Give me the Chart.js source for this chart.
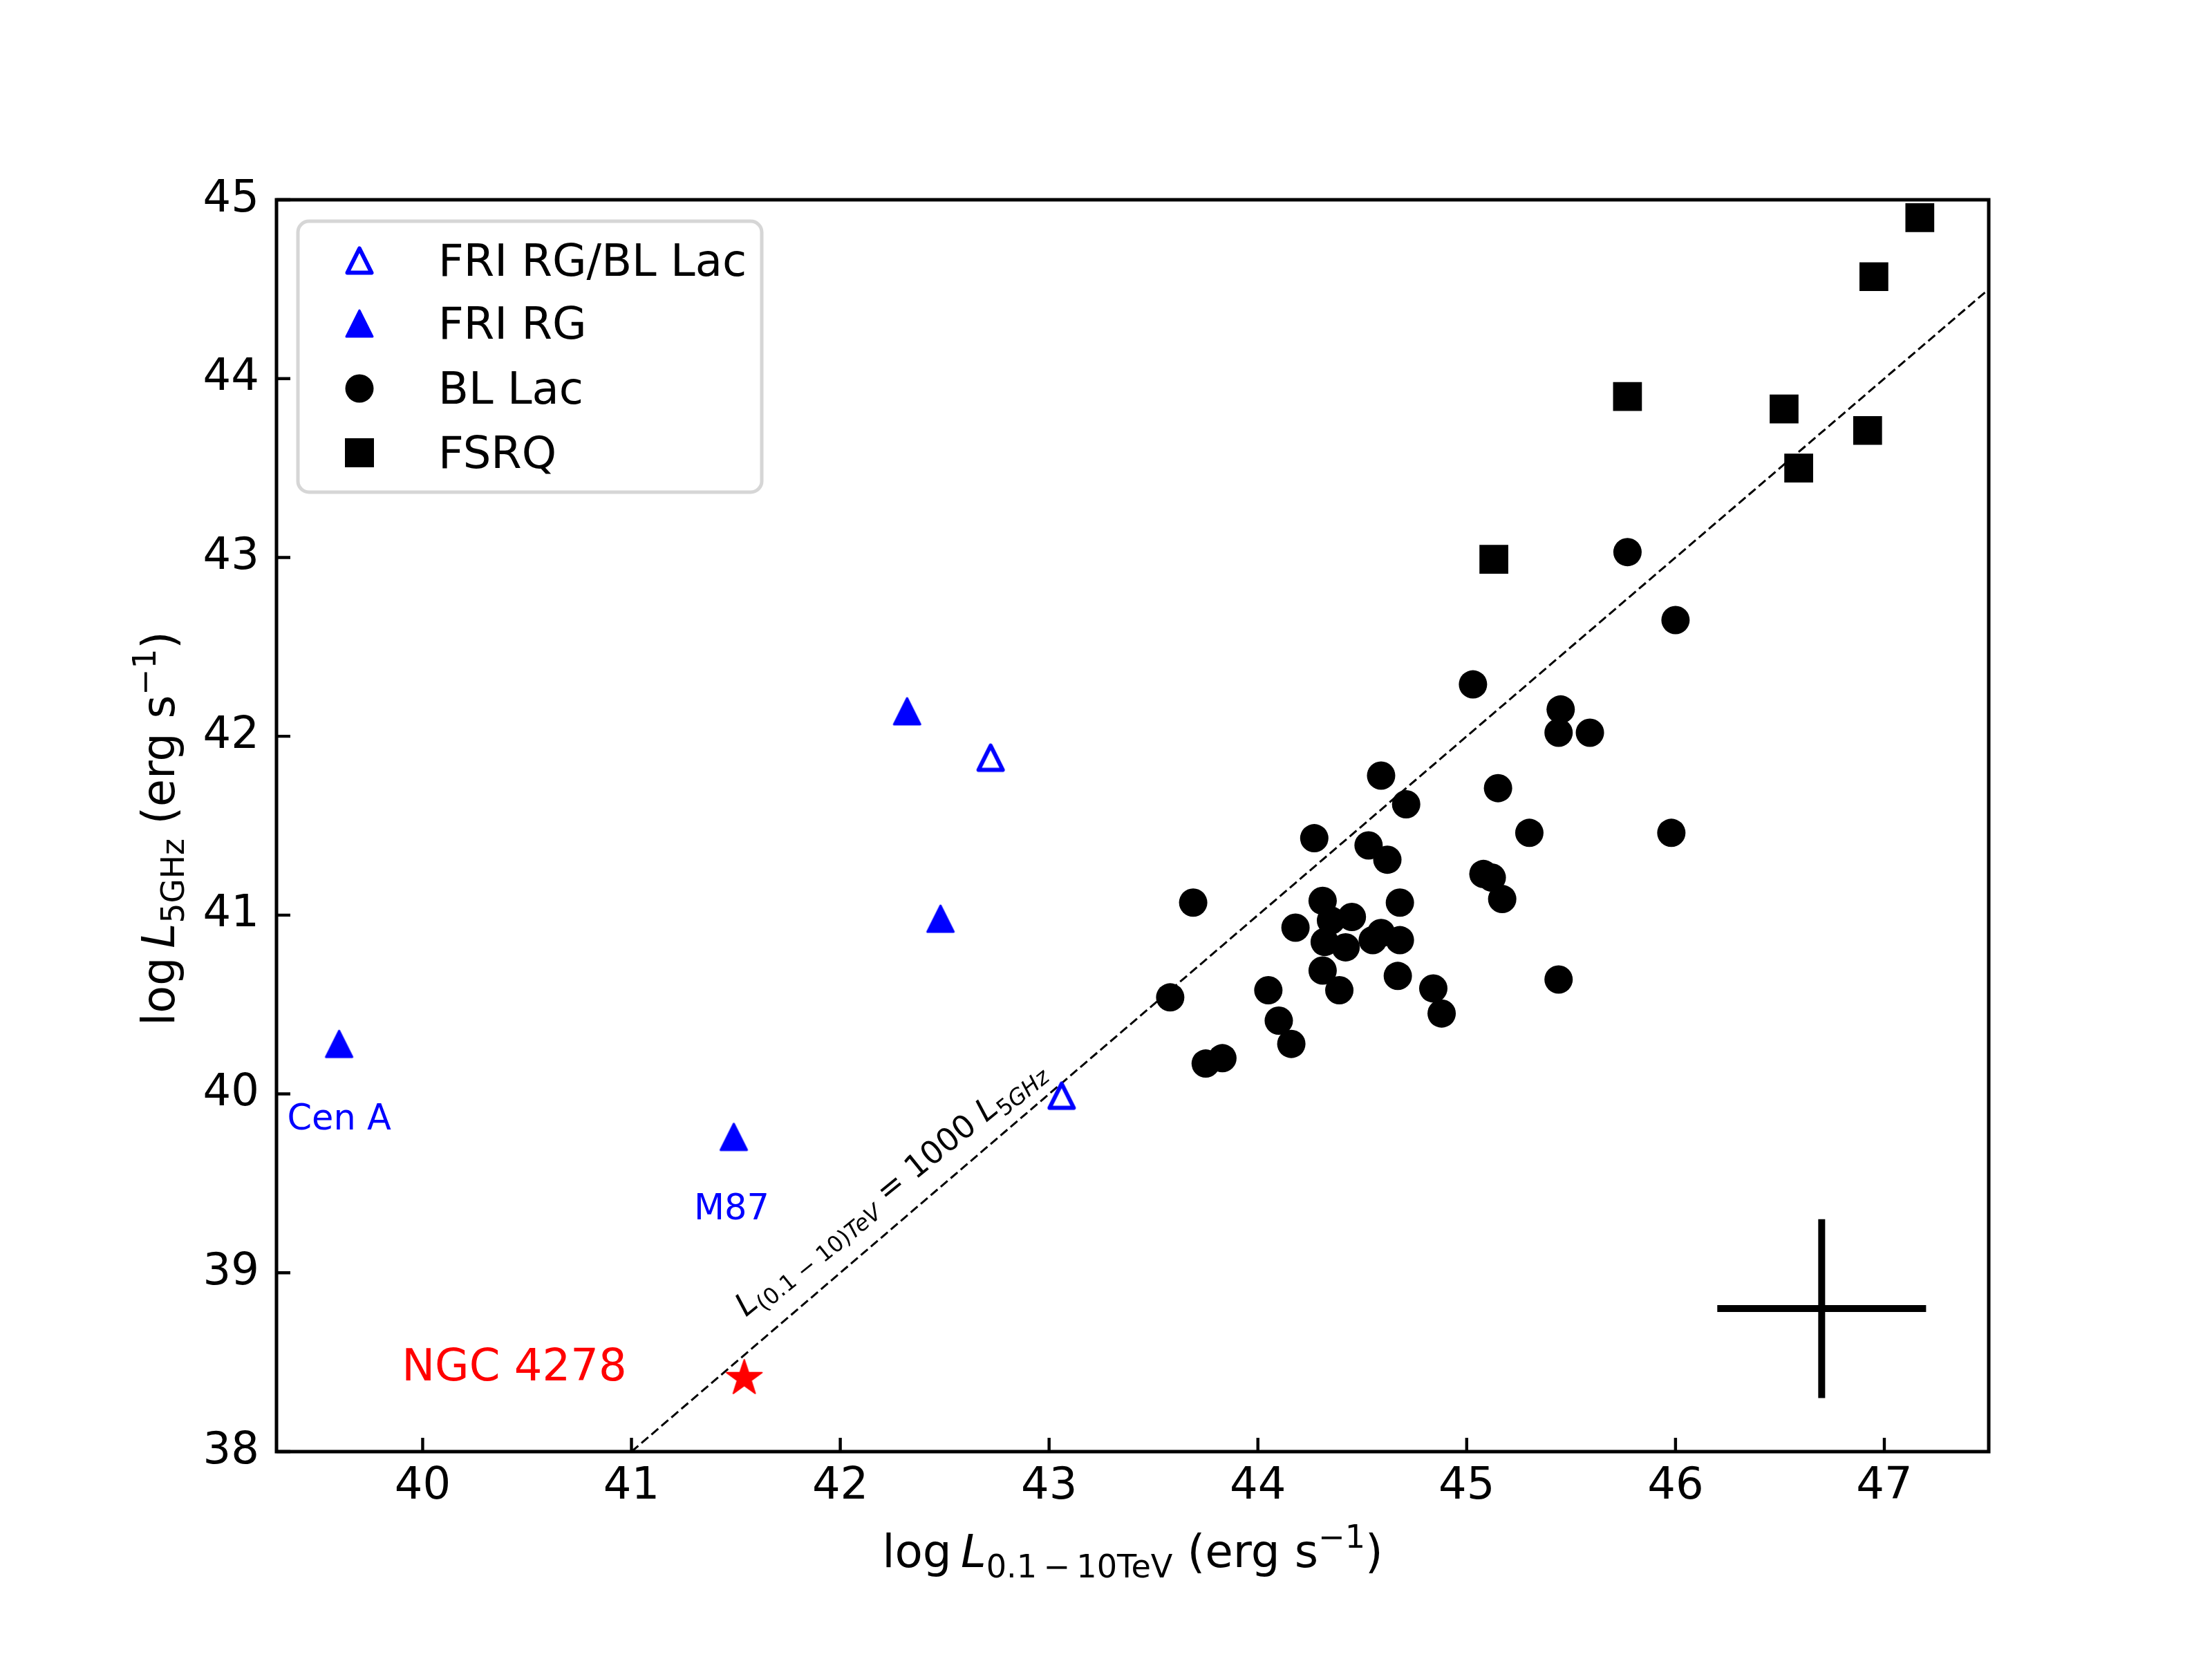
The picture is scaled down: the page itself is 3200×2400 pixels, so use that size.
<!DOCTYPE html>
<html>
<head>
<meta charset="utf-8">
<script src="https://cdn.jsdelivr.net/npm/chart.js@4"></script>
<style>html,body{margin:0;background:#fff}canvas{display:block}</style>
</head>
<body>
<canvas id="c" width="3200" height="2400" style="width:3200px;height:2400px"></canvas>
<script>
// ── data ────────────────────────────────────────────────────────────────────
const X_TICKS = [40, 41, 42, 43, 44, 45, 46, 47];
const Y_TICKS = [38, 39, 40, 41, 42, 43, 44, 45];

const RGBL_X  = [42.72, 43.06];                       // FRI RG/BL Lac (open)
const RGBL_Y  = [41.88, 39.99];
const FRIRG_X = [42.32, 42.48, 39.60, 41.49];         // FRI RG (filled)
const FRIRG_Y = [42.14, 40.98, 40.28, 39.76];
const BLLAC_X = [45.77, 46.00, 45.03, 45.45, 45.44, 45.59, 44.59, 45.15, 44.71, 45.30,
                 45.98, 44.27, 44.53, 44.62, 45.08, 45.12, 45.17, 43.69, 44.31, 44.68,
                 44.45, 44.35, 44.18, 44.59, 44.55, 44.68, 44.32, 44.42, 44.31, 44.67,
                 45.44, 44.39, 44.05, 44.84, 44.88, 43.58, 44.10, 44.16, 43.75, 43.83];
const BLLAC_Y = [43.03, 42.65, 42.29, 42.15, 42.02, 42.02, 41.78, 41.71, 41.62, 41.46,
                 41.46, 41.43, 41.39, 41.31, 41.23, 41.21, 41.09, 41.07, 41.08, 41.07,
                 40.99, 40.97, 40.93, 40.90, 40.86, 40.86, 40.85, 40.82, 40.69, 40.66,
                 40.64, 40.58, 40.58, 40.59, 40.45, 40.54, 40.41, 40.28, 40.17, 40.20];
const FSRQ_X  = [47.17, 46.95, 45.77, 46.52, 46.92, 46.59, 45.13];
const FSRQ_Y  = [44.90, 44.57, 43.90, 43.83, 43.71, 43.50, 42.99];
const NGC_X   = [41.54];
const NGC_Y   = [38.41];

const LINE_X  = [41, 47.5];                           // L_TeV = 1000 L_5GHz
const LINE_Y  = [38, 44.5];

const ERR_X = 46.7, ERR_Y = 38.8, ERR_DX = 0.5, ERR_DY = 0.5;   // typical error bar

const pts = (xs, ys) => xs.map((x, i) => ({ x, y: ys[i] }));

// ── marker images (matplotlib-like shapes) ──────────────────────────────────
function markerCanvas(size, draw){
  const c = document.createElement("canvas");
  c.width = c.height = size;
  draw(c.getContext("2d"), size / 2);
  return c;
}
function triPath(g, c, h){
  g.beginPath(); g.moveTo(c, c - h); g.lineTo(c + h, c + h); g.lineTo(c - h, c + h); g.closePath();
}
const TRI_FILLED = markerCanvas(50, (g, c) => {
  triPath(g, c, 19); g.fillStyle = "#0000ff"; g.fill();
  g.lineJoin = "round"; g.lineWidth = 3; g.strokeStyle = "#0000ff"; g.stroke();
});
const TRI_OPEN = markerCanvas(50, (g, c) => {
  triPath(g, c, 17.5); g.lineJoin = "round"; g.lineWidth = 6; g.strokeStyle = "#0000ff"; g.stroke();
});
const STAR = markerCanvas(62, (g, c) => {
  g.beginPath();
  for (let i = 0; i < 10; i++){
    const r = i % 2 ? 10.5 : 27, a = -Math.PI / 2 + i * Math.PI / 5;
    g.lineTo(c + r * Math.cos(a), c + r * Math.sin(a));
  }
  g.closePath(); g.fillStyle = "#ff0000"; g.fill();
  g.lineJoin = "round"; g.lineWidth = 2; g.strokeStyle = "#ff0000"; g.stroke();
});

// ── text with sub/superscripts ──────────────────────────────────────────────
function drawRuns(ctx, runs, x, y, size, align){
  const fontOf = r => `${r.it ? "italic " : ""}${(r.sub || r.sup) ? size * 0.7 : size}px "DejaVu Sans"`;
  let w = 0;
  const ws = runs.map(r => { ctx.font = fontOf(r); const m = ctx.measureText(r.t).width; w += m; return m; });
  let cx = align === "center" ? x - w / 2 : x;
  ctx.textAlign = "left"; ctx.textBaseline = "alphabetic";
  runs.forEach((r, i) => {
    ctx.font = fontOf(r);
    const dy = r.sub ? size * 0.22 : r.sup ? -size * 0.42 : 0;
    ctx.fillText(r.t, cx, y + dy);
    cx += ws[i];
  });
}

const LABELS = [
  { text: "Cen A",    x: 39.60, y: 39.80, color: "#0000ff", size: 51, align: "center" },
  { text: "M87",      x: 41.48, y: 39.30, color: "#0000ff", size: 51, align: "center" },
  { text: "NGC 4278", x: 39.90, y: 38.40, color: "#ff0000", size: 64, align: "left" },
];

const decor = {
  id: "decor",
  afterDatasetsDraw(chart){
    const { ctx, chartArea: a, scales: { x, y } } = chart;
    ctx.save();

    // inward ticks, bottom and left
    ctx.strokeStyle = "#000"; ctx.lineWidth = 4.4;
    ctx.beginPath();
    X_TICKS.forEach(v => { const p = x.getPixelForValue(v); ctx.moveTo(p, a.bottom); ctx.lineTo(p, a.bottom - 20); });
    Y_TICKS.forEach(v => { const p = y.getPixelForValue(v); ctx.moveTo(a.left, p); ctx.lineTo(a.left + 20, p); });
    ctx.stroke();

    // frame
    ctx.lineWidth = 5;
    ctx.strokeRect(a.left, a.top, a.right - a.left, a.bottom - a.top);

    // point labels
    LABELS.forEach(l => {
      ctx.fillStyle = l.color; ctx.font = `${l.size}px "DejaVu Sans"`;
      ctx.textAlign = l.align; ctx.textBaseline = "alphabetic";
      ctx.fillText(l.text, x.getPixelForValue(l.x), y.getPixelForValue(l.y));
    });

    // relation label along the dashed line
    ctx.fillStyle = "#000";
    ctx.save();
    ctx.translate(x.getPixelForValue(42.24), y.getPixelForValue(39.47));
    ctx.rotate(-39 * Math.PI / 180);
    drawRuns(ctx, [
      { t: "L", it: 1 }, { t: "(0.1 \u2212 10)", sub: 1 }, { t: "TeV", sub: 1, it: 1 },
      { t: " = 1000 " }, { t: "L", it: 1 }, { t: "5", sub: 1 }, { t: "GHz", sub: 1, it: 1 },
    ], 0, 13, 46, "center");
    ctx.restore();

    // axis titles
    drawRuns(ctx, [
      { t: "log" }, { t: "\u2009" }, { t: "L", it: 1 }, { t: "0.1\u2009\u2212\u200910TeV", sub: 1 },
      { t: " (erg s" }, { t: "\u22121", sup: 1 }, { t: ")" },
    ], (a.left + a.right) / 2, 2267, 66, "center");
    ctx.save();
    ctx.translate(252, (a.top + a.bottom) / 2 + 4);
    ctx.rotate(-Math.PI / 2);
    drawRuns(ctx, [
      { t: "log" }, { t: "\u2009" }, { t: "L", it: 1 }, { t: "5GHz", sub: 1 },
      { t: " (erg s" }, { t: "\u22121", sup: 1 }, { t: ")" },
    ], 0, 0, 65, "center");
    ctx.restore();

    // legend
    const L = 431, T = 320, W = 671, H = 392, R = 16;
    ctx.beginPath();
    ctx.roundRect(L, T, W, H, R);
    ctx.fillStyle = "rgba(255,255,255,0.8)"; ctx.fill();
    ctx.lineWidth = 5; ctx.strokeStyle = "#d6d6d6"; ctx.stroke();
    const rows = [
      ["FRI RG/BL Lac", g => ctx.drawImage(TRI_OPEN, 520 - 25, g - 25)],
      ["FRI RG",        g => ctx.drawImage(TRI_FILLED, 520 - 25, g - 25)],
      ["BL Lac",        g => { ctx.fillStyle = "#000"; ctx.beginPath(); ctx.arc(520, g, 20.5, 0, 2 * Math.PI); ctx.fill(); }],
      ["FSRQ",          g => { ctx.fillStyle = "#000"; ctx.fillRect(520 - 21, g - 21, 42, 42); }],
    ];
    [377, 468, 562, 655].forEach((g, i) => {
      rows[i][1](g);
      ctx.fillStyle = "#000"; ctx.font = '64px "DejaVu Sans"';
      ctx.textAlign = "left"; ctx.textBaseline = "alphabetic";
      ctx.fillText(rows[i][0], 634, g + 22);
    });

    ctx.restore();
  }
};

const tickFont = { family: "DejaVu Sans", size: 64 };

new Chart(document.getElementById("c"), {
  type: "scatter",
  data: {
    datasets: [
      { label: "NGC 4278", data: pts(NGC_X, NGC_Y), pointStyle: STAR, pointRadius: 20 },
      { label: "FRI RG/BL Lac", data: pts(RGBL_X, RGBL_Y), pointStyle: TRI_OPEN, pointRadius: 20 },
      { label: "FRI RG", data: pts(FRIRG_X, FRIRG_Y), pointStyle: TRI_FILLED, pointRadius: 20 },
      { label: "FSRQ", data: pts(FSRQ_X, FSRQ_Y), pointStyle: "rect", pointRadius: 29.5,
        backgroundColor: "#000", borderWidth: 0 },
      { label: "BL Lac", data: pts(BLLAC_X, BLLAC_Y), pointStyle: "circle", pointRadius: 20.5,
        backgroundColor: "#000", borderWidth: 0 },
      { label: "err x", data: [{ x: ERR_X - ERR_DX, y: ERR_Y }, { x: ERR_X + ERR_DX, y: ERR_Y }],
        showLine: true, pointRadius: 0, borderColor: "#000", borderWidth: 10, borderCapStyle: "butt" },
      { label: "err y", data: [{ x: ERR_X, y: ERR_Y - ERR_DY }, { x: ERR_X, y: ERR_Y + ERR_DY }],
        showLine: true, pointRadius: 0, borderColor: "#000", borderWidth: 10, borderCapStyle: "butt" },
      { label: "relation", data: pts(LINE_X, LINE_Y), showLine: true, pointRadius: 0,
        borderColor: "#000", borderWidth: 3, borderDash: [13, 6] },
    ],
  },
  options: {
    responsive: false, animation: false, devicePixelRatio: 1,
    layout: { padding: { top: 289, right: 323, left: 0, bottom: 0 } },
    plugins: { legend: { display: false }, tooltip: { enabled: false } },
    scales: {
      x: {
        type: "linear", min: 39.3, max: 47.5,
        grid: { display: false, drawTicks: false }, border: { display: false },
        afterBuildTicks: s => { s.ticks = X_TICKS.map(v => ({ value: v })); },
        afterFit: s => { s.height = 300; },
        ticks: { font: tickFont, color: "#000", padding: 13, maxRotation: 0, autoSkip: false },
      },
      y: {
        type: "linear", min: 38, max: 45,
        grid: { display: false, drawTicks: false }, border: { display: false },
        afterBuildTicks: s => { s.ticks = Y_TICKS.map(v => ({ value: v })); },
        afterFit: s => { s.width = 400; },
        ticks: { font: tickFont, color: "#000", padding: 25, autoSkip: false },
      },
    },
  },
  plugins: [decor],
});
</script>
</body>
</html>
